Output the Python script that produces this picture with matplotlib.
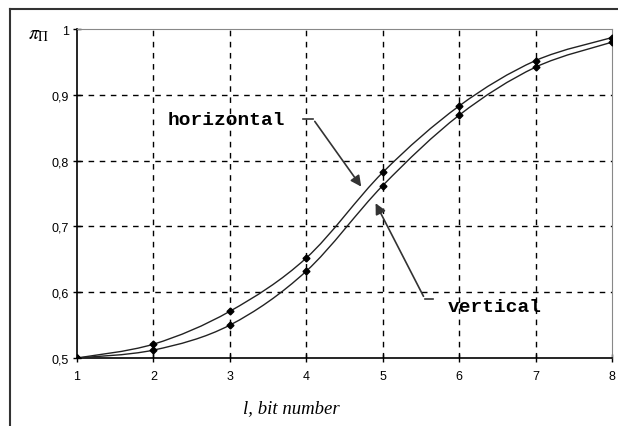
import matplotlib
matplotlib.use("Agg")
import matplotlib.pyplot as plt
import numpy as np
from matplotlib.path import Path
from matplotlib.patches import PathPatch
from matplotlib.lines import Line2D
from matplotlib.ticker import FuncFormatter

# values
bits = [1, 2, 3, 4, 5, 6, 7, 8]
horizontal = [0.50, 0.521, 0.571, 0.652, 0.782, 0.883, 0.952, 0.987]
vertical = [0.50, 0.512, 0.550, 0.632, 0.762, 0.869, 0.942, 0.980]
xticks = [1, 2, 3, 4, 5, 6, 7, 8]
yticks = [0.5, 0.6, 0.7, 0.8, 0.9, 1.0]

plt.rcParams["font.family"] = ["Liberation Sans", "DejaVu Sans"]
plt.rcParams["mathtext.fontset"] = "stix"


def smooth_path(xs, ys):
    # excel-like smoothed line: catmull-rom segments written as bezier curves
    pts = np.column_stack([xs, ys]).astype(float)
    ext = np.vstack([pts[0], pts, pts[-1]])
    verts = [pts[0]]
    codes = [Path.MOVETO]
    for i in range(1, len(ext) - 2):
        p0, p1, p2, p3 = ext[i - 1], ext[i], ext[i + 1], ext[i + 2]
        verts += [p1 + (p2 - p0) / 6.0, p2 - (p3 - p1) / 6.0, p2]
        codes += [Path.CURVE4] * 3
    return Path(verts, codes)


fig = plt.figure(figsize=(6.18, 4.27), dpi=100)
ax = fig.add_axes([77 / 618, 1 - 359 / 427, (612 - 77) / 618, (359 - 30) / 427])

# dashed grid only inside the plot area
dash = (0, (4, 4))
ax.vlines(xticks[1:-1], 0.5, 1.0, colors="black", linestyles=dash, lw=1, zorder=1)
ax.hlines(yticks[1:-1], 1, 8, colors="black", linestyles=dash, lw=1, zorder=1)

for ys in (horizontal, vertical):
    ax.add_patch(PathPatch(smooth_path(bits, ys), fill=False, edgecolor="#222222", lw=1.0, zorder=3))
    ax.plot(bits, ys, ls="none", marker="D", ms=3.5, color="black", zorder=5)

ax.set_xlim(1, 8)
ax.set_ylim(0.5, 1.0)
ax.set_xticks(xticks)
ax.set_yticks(yticks)
ax.yaxis.set_major_formatter(FuncFormatter(lambda v, p: "1" if v == 1 else ("%.1f" % v).replace(".", ",")))
ax.tick_params(direction="inout", length=6, width=1, labelsize=9, colors="black")
ax.tick_params(axis="x", pad=6)
ax.tick_params(axis="y", pad=3)
for s in ("top", "right"):
    ax.spines[s].set_color("#888888")
for s in ("left", "bottom"):
    ax.spines[s].set_color("black")
    ax.spines[s].set_linewidth(1.2)

# labels
fig.text(28 / 618, 1 - 35 / 427, r"$\pi_{\mathit{\Pi}}$", fontsize=14, ha="left", va="center")
fig.text(291 / 618, 1 - 409 / 427, "l, bit number", fontsize=13.5, style="italic",
         family="Liberation Serif", ha="center", va="center")

# leader lines with arrows
txt_font = dict(family="Liberation Mono", fontweight="bold", fontsize=14)
ax.text(2.18, 0.862, "horizontal", ha="left", va="center", **txt_font)
ax.plot([3.96, 4.09], [0.863, 0.863], color="#333333", lw=1.2)
ax.annotate("", xy=(4.74, 0.757), xytext=(4.09, 0.863),
            arrowprops=dict(arrowstyle="-|>", color="#333333", lw=1.2, mutation_scale=16))
ax.text(5.85, 0.579, "vertical", ha="left", va="center", **txt_font)
ax.plot([5.55, 5.66], [0.590, 0.590], color="#333333", lw=1.2)
ax.annotate("", xy=(4.89, 0.739), xytext=(5.55, 0.590),
            arrowprops=dict(arrowstyle="-|>", color="#333333", lw=1.2, mutation_scale=16))

# outer chart frame (only left and top edges visible)
fig.add_artist(Line2D([10 / 618, 10 / 618], [0, 1 - 10 / 427], color="#333333", lw=1.5))
fig.add_artist(Line2D([10 / 618, 1], [1 - 10 / 427, 1 - 10 / 427], color="#333333", lw=1.5))

fig.savefig("out.png", dpi=100)
